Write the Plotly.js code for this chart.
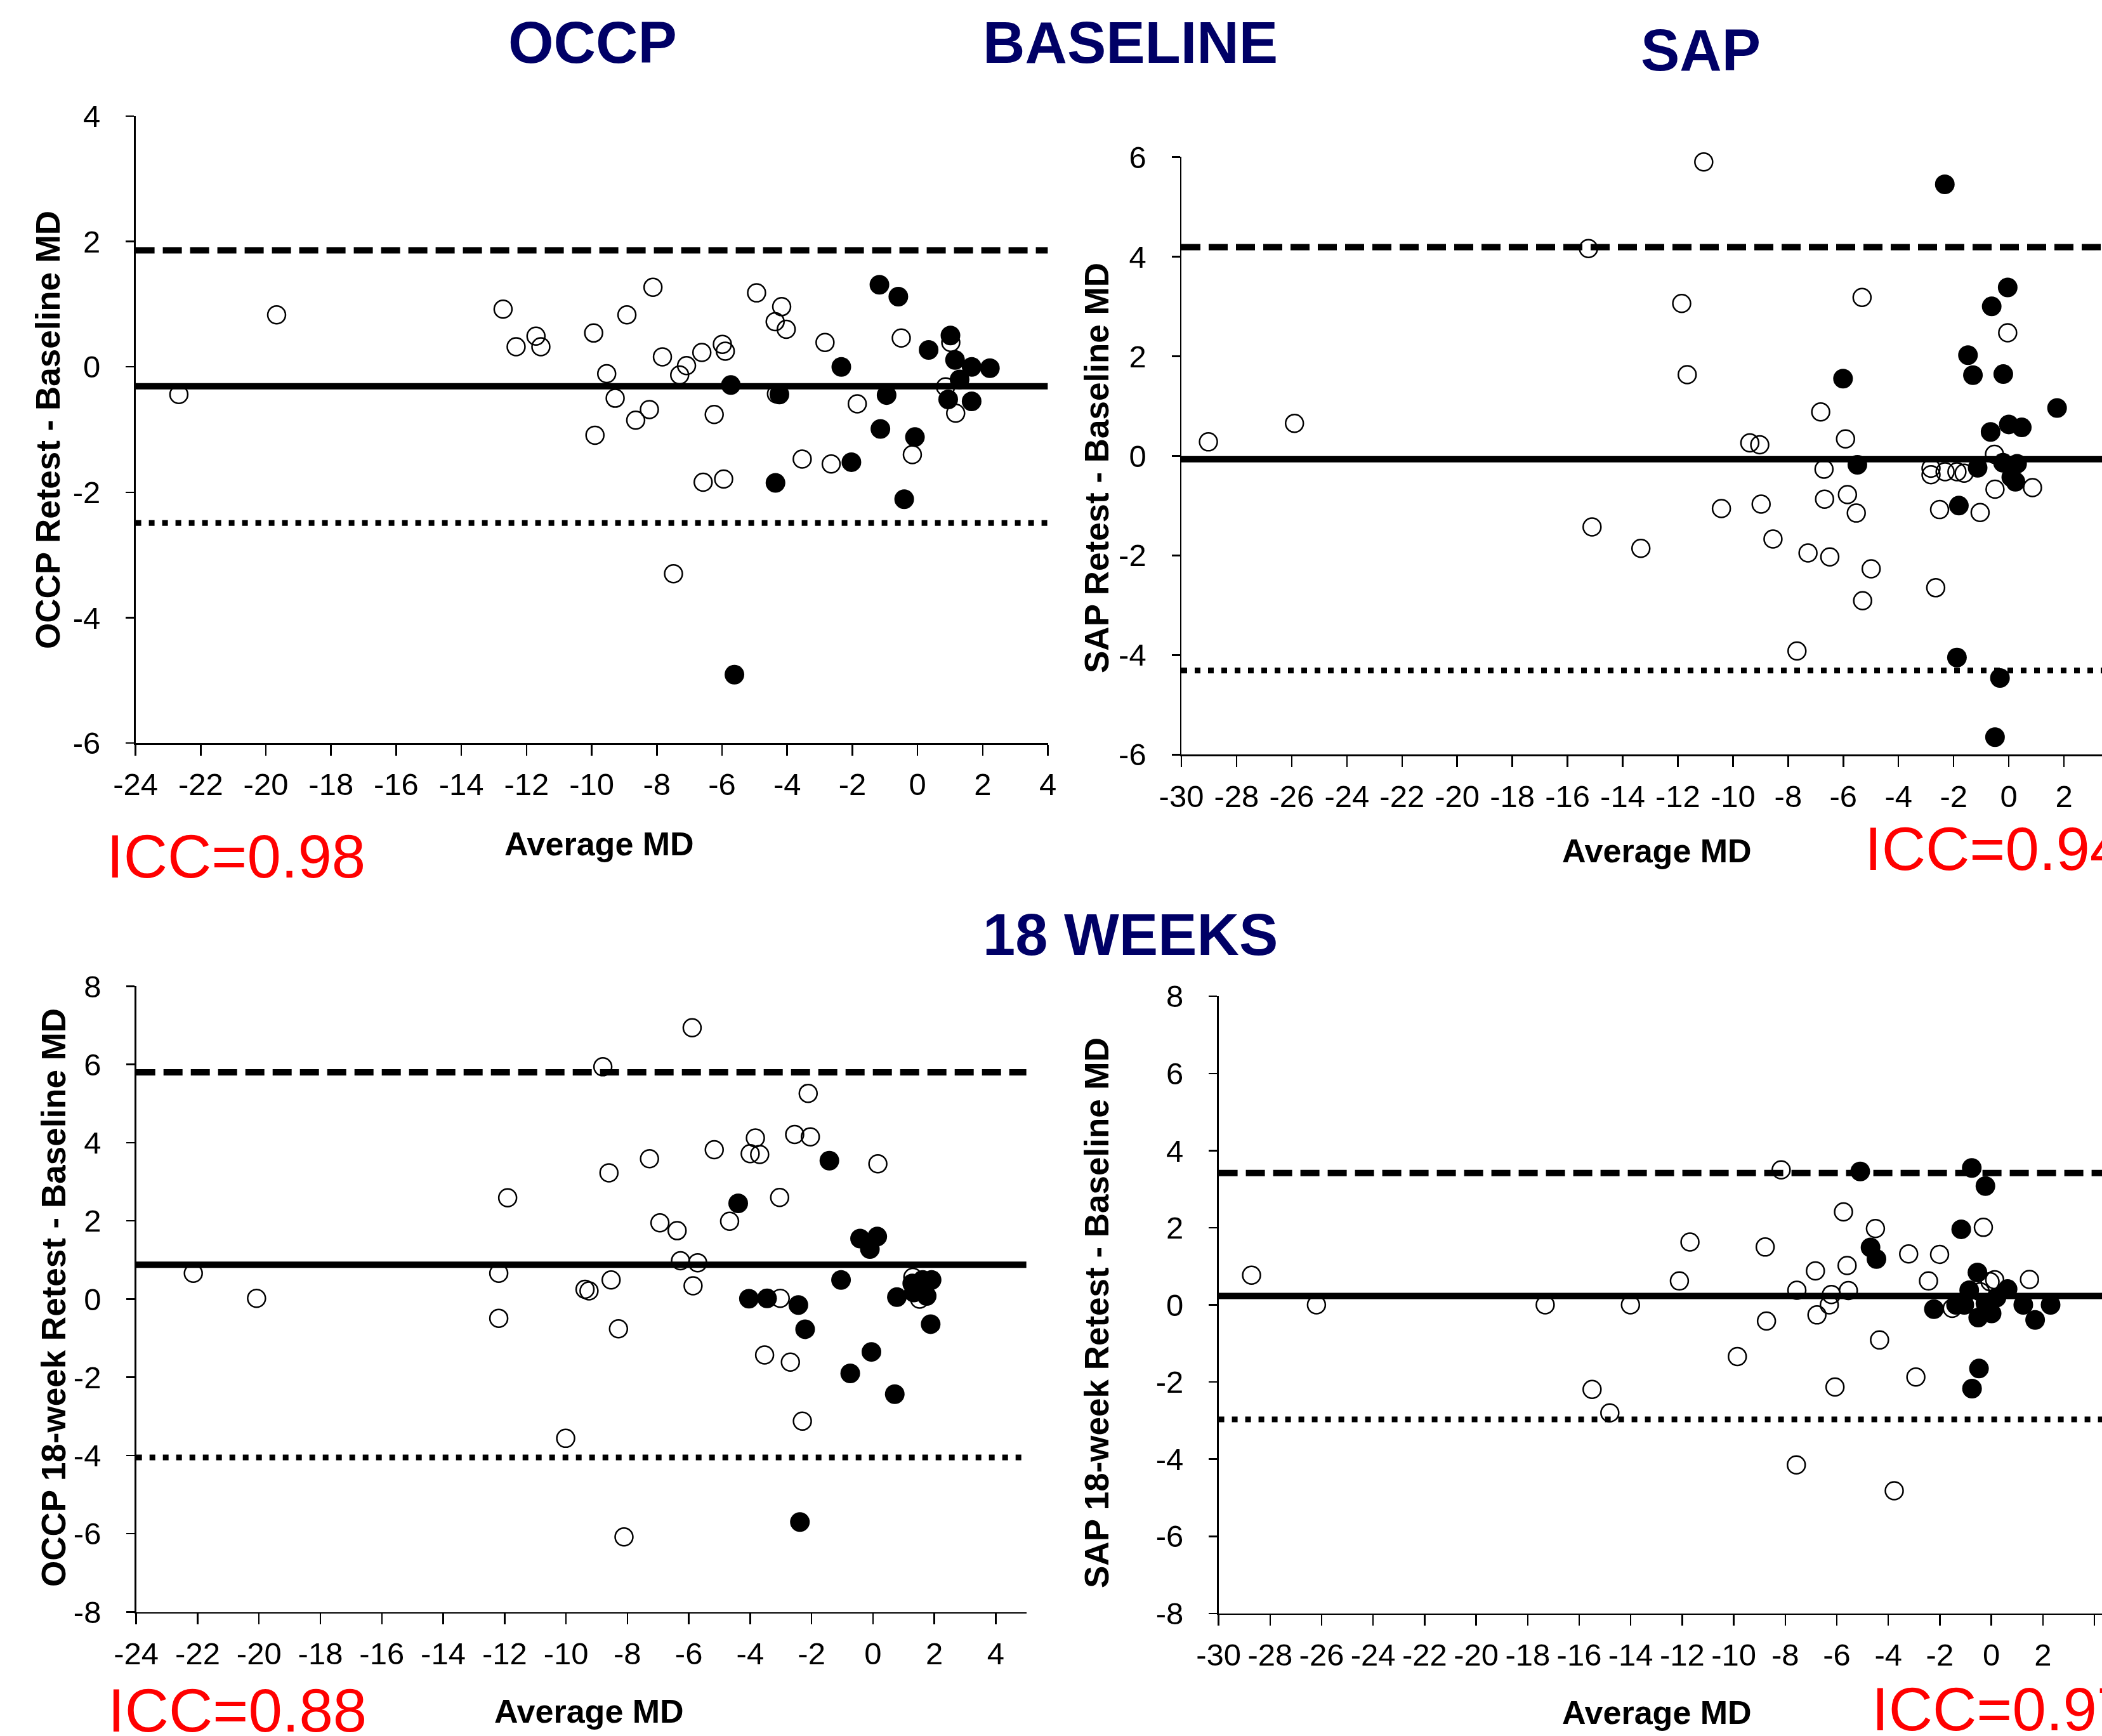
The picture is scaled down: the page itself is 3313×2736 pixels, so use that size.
<!DOCTYPE html>
<html>
<head>
<meta charset="utf-8">
<script src="https://cdn.plot.ly/plotly-3.0.1.min.js"></script>
<style>html,body{margin:0;padding:0;background:#fff;}#chart{width:3313px;height:2736px;}</style>
</head>
<body>
<div id="chart"></div>
<script>
// ---- Data ----
// Panel 1: OCCP baseline
const p1OpenX = [-22.67,-19.67,-12.72,-12.32,-11.71,-11.56,-9.94,-9.90,-9.54,-9.28,-8.92,-8.65,-8.23,-8.12,-7.83,-7.49,-7.30,-7.09,-6.62,-6.58,-6.24,-5.99,-5.90,-5.95,-4.94,-4.37,-4.17,-4.03,-4.33,-3.54,-2.84,-2.65,-1.85,-0.50,-0.16,0.86,1.02,1.17];
const p1OpenY = [-0.44,0.83,0.92,0.32,0.49,0.32,0.54,-1.09,-0.11,-0.50,0.83,-0.85,-0.68,1.27,0.16,-3.30,-0.13,0.02,0.23,-1.84,-0.76,0.36,0.25,-1.79,1.18,0.72,0.96,0.60,-0.43,-1.47,0.39,-1.55,-0.59,0.46,-1.40,-0.32,0.39,-0.74];
const p1FillX = [-5.73,-4.24,-4.36,-5.62,-2.34,-2.03,-1.17,-0.59,-0.95,-1.14,-0.08,-0.41,0.34,1.01,1.15,1.66,2.22,1.29,0.94,1.66];
const p1FillY = [-0.29,-0.44,-1.85,-4.91,0.00,-1.52,1.31,1.12,-0.45,-0.99,-1.12,-2.11,0.27,0.50,0.11,0.00,-0.02,-0.20,-0.52,-0.55];
const p1Lines = {mean: -0.31, upper: 1.86, lower: -2.49};
const p1XTicks = [-24,-22,-20,-18,-16,-14,-12,-10,-8,-6,-4,-2,0,2,4];
const p1YTicks = [-6,-4,-2,0,2,4];

// Panel 2: SAP baseline
const p2OpenX = [-29.02,-25.90,-15.24,-15.11,-13.34,-11.86,-11.66,-11.06,-10.42,-9.39,-9.03,-8.98,-8.55,-7.68,-7.28,-6.82,-6.70,-6.68,-6.49,-5.92,-5.85,-5.53,-5.32,-5.30,-4.99,-2.65,-2.51,-2.82,-2.82,-2.31,-1.88,-1.62,-1.04,-0.52,-0.50,-0.04,0.86];
const p2OpenY = [0.28,0.65,4.16,-1.43,-1.86,3.06,1.63,5.90,-1.06,0.26,0.22,-0.97,-1.67,-3.92,-1.95,0.88,-0.27,-0.87,-2.03,0.34,-0.78,-1.15,3.18,-2.91,-2.27,-2.65,-1.08,-0.25,-0.38,-0.32,-0.32,-0.35,-1.14,0.03,-0.67,2.47,-0.64];
const p2FillX = [-2.32,-6.01,-5.49,-1.48,-1.30,-0.20,-0.62,-0.04,1.75,-0.66,0.00,0.47,-1.13,-0.21,0.30,0.09,0.24,-1.81,-1.88,-0.32,-0.50];
const p2FillY = [5.45,1.55,-0.18,2.02,1.62,1.64,3.00,3.38,0.96,0.48,0.63,0.57,-0.24,-0.14,-0.16,-0.43,-0.52,-1.00,-4.05,-4.46,-5.65];
const p2Lines = {mean: -0.07, upper: 4.19, lower: -4.31};
const p2XTicks = [-30,-28,-26,-24,-22,-20,-18,-16,-14,-12,-10,-8,-6,-4,-2,0,2,4];
const p2YTicks = [-6,-4,-2,0,2,4,6];

// Panel 3: OCCP 18 weeks
const p3OpenX = [-22.14,-20.08,-12.19,-12.19,-11.90,-10.01,-9.38,-9.25,-8.80,-8.60,-8.53,-8.29,-8.11,-7.28,-6.94,-6.38,-6.27,-5.89,-5.86,-5.71,-5.17,-4.67,-4.00,-3.83,-3.69,-3.53,-3.04,-3.02,-2.69,-2.55,-2.30,-2.11,-2.04,0.16,1.30,1.52];
const p3OpenY = [0.66,0.02,0.66,-0.49,2.59,-3.56,0.25,0.21,5.94,3.23,0.49,-0.76,-6.08,3.59,1.95,1.75,0.98,6.94,0.34,0.93,3.82,1.99,3.72,4.12,3.70,-1.43,2.60,0.02,-1.61,4.21,-3.12,5.26,4.15,3.46,0.56,0.00];
const p3FillX = [-1.42,-4.39,-0.42,0.14,-0.10,-1.04,-4.04,-3.45,-2.43,-2.21,-2.38,-0.74,-0.05,0.71,0.78,1.28,1.62,1.91,1.75,1.33,1.88];
const p3FillY = [3.54,2.45,1.55,1.60,1.28,0.49,0.01,0.02,-0.15,-0.77,-5.70,-1.90,-1.35,-2.43,0.05,0.40,0.49,0.49,0.08,0.17,-0.64];
const p3Lines = {mean: 0.88, upper: 5.80, lower: -4.05};
const p3XTicks = [-24,-22,-20,-18,-16,-14,-12,-10,-8,-6,-4,-2,0,2,4];
const p3YTicks = [-8,-6,-4,-2,0,2,4,6,8];

// Panel 4: SAP 18 weeks
const p4OpenX = [-28.72,-26.20,-17.32,-15.50,-14.81,-14.01,-12.11,-11.70,-9.86,-8.78,-8.73,-8.16,-7.57,-7.55,-6.83,-6.77,-6.29,-6.21,-6.07,-5.74,-5.60,-5.55,-4.50,-4.34,-3.77,-3.21,-2.93,-2.44,-2.01,-1.52,-0.31,-0.43,-0.05,0.13,1.48];
const p4OpenY = [0.77,0.00,0.00,-2.19,-2.80,0.00,0.62,1.63,-1.34,1.50,-0.42,3.50,-4.15,0.38,0.88,-0.26,0.00,0.27,-2.13,2.41,1.02,0.37,1.98,-0.91,-4.82,1.32,-1.87,0.62,1.31,-0.09,2.01,0.34,0.60,0.65,0.66];
const p4FillX = [-5.09,-0.76,-0.23,-1.17,-4.69,-4.46,-0.54,-0.86,0.63,0.20,-2.23,-1.37,-1.05,-0.23,-0.51,0.01,1.24,2.30,1.70,-0.48,-0.75];
const p4FillY = [3.46,3.55,3.08,1.96,1.49,1.19,0.84,0.38,0.41,0.19,-0.11,0.00,0.00,0.04,-0.33,-0.22,0.00,0.00,-0.39,-1.65,-2.17];
const p4Lines = {mean: 0.23, upper: 3.42, lower: -2.97};
const p4XTicks = [-30,-28,-26,-24,-22,-20,-18,-16,-14,-12,-10,-8,-6,-4,-2,0,2,4];
const p4YTicks = [-8,-6,-4,-2,0,2,4,6,8];

const iccLabels = ["ICC=0.98", "ICC=0.94", "ICC=0.88", "ICC=0.97"];
const yTitles = ["OCCP Retest - Baseline MD", "SAP Retest - Baseline MD", "OCCP 18-week Retest - Baseline MD", "SAP 18-week Retest - Baseline MD"];
const xTitle = "Average MD";
const headTitles = ["OCCP", "BASELINE", "SAP", "18 WEEKS"];

// ---- Layout helpers ----
const W = 3313, H = 2736;
const FONT = "Liberation Sans, Arial, sans-serif";
const fx = px => px / W;
const fy = py => 1 - py / H;

const panels = [
  {ox:p1OpenX, oy:p1OpenY, fxs:p1FillX, fys:p1FillY, lines:p1Lines, xt:p1XTicks, yt:p1YTicks, xr:[-24,4], yr:[-6,4],
   xd:[fx(213.6), fx(1651.6)], yd:[fy(1171), fy(183)]},
  {ox:p2OpenX, oy:p2OpenY, fxs:p2FillX, fys:p2FillY, lines:p2Lines, xt:p2XTicks, yt:p2YTicks, xr:[-30,-30+(W-1862)/43.47], yr:[-6,6],
   xd:[fx(1862), 1], yd:[fy(1189.3), fy(247.4)]},
  {ox:p3OpenX, oy:p3OpenY, fxs:p3FillX, fys:p3FillY, lines:p3Lines, xt:p3XTicks, yt:p3YTicks, xr:[-24,5], yr:[-8,8],
   xd:[fx(214.7), fx(1617.8)], yd:[fy(2540.5), fy(1554.4)]},
  {ox:p4OpenX, oy:p4OpenY, fxs:p4FillX, fys:p4FillY, lines:p4Lines, xt:p4XTicks, yt:p4YTicks, xr:[-30,-30+(W-1920.6)/40.6], yr:[-8,8],
   xd:[fx(1920.6), 1], yd:[fy(2542.9), fy(1570.2)]}
];

const data = [];
const shapes = [];
const layout = {
  width: W, height: H,
  margin: {l:0, r:0, t:0, b:0},
  paper_bgcolor: "#ffffff", plot_bgcolor: "#ffffff",
  showlegend: false,
  font: {family: FONT, color: "#000"},
  annotations: []
};

panels.forEach((p, i) => {
  const n = i + 1;
  const xa = "x" + (n === 1 ? "" : n), ya = "y" + (n === 1 ? "" : n);
  const xk = "xaxis" + (n === 1 ? "" : n), yk = "yaxis" + (n === 1 ? "" : n);
  const common = {
    showline: true, linecolor: "#000", linewidth: 2.5,
    ticks: "outside", tickwidth: 2.5, tickcolor: "#000",
    showgrid: false, zeroline: false, tickmode: "array", tickangle: 0,
    tickfont: {family: FONT, size: 49, color: "#000"},
    fixedrange: true
  };
  layout[xk] = Object.assign({}, common, {domain: p.xd, range: p.xr, anchor: ya, ticklen: 17, ticklabelstandoff: 4,
    tickvals: p.xt, ticktext: p.xt.map(String)});
  layout[yk] = Object.assign({}, common, {domain: p.yd, range: p.yr, anchor: xa, ticklen: 13, ticklabelstandoff: 30,
    tickvals: p.yt, ticktext: p.yt.map(String)});

  const lineDefs = [
    {v: p.lines.upper, dash: "30px,13px", w: 10},
    {v: p.lines.mean, dash: "solid", w: 10},
    {v: p.lines.lower, dash: "9px,12px", w: 9}
  ];
  lineDefs.forEach(l => shapes.push({
    type: "line", xref: xa, yref: ya, x0: p.xr[0], x1: p.xr[1], y0: l.v, y1: l.v,
    line: {color: "#000", width: l.w, dash: l.dash}, layer: "below"
  }));

  data.push({
    type: "scatter", mode: "markers", x: p.ox, y: p.oy, xaxis: xa, yaxis: ya, cliponaxis: false,
    marker: {symbol: "circle-open", size: 28, color: "#000", line: {width: 2.5, color: "#000"}},
    hoverinfo: "x+y"
  });
  data.push({
    type: "scatter", mode: "markers", x: p.fxs, y: p.fys, xaxis: xa, yaxis: ya, cliponaxis: false,
    marker: {symbol: "circle", size: 31, color: "#000"},
    hoverinfo: "x+y"
  });
});
layout.shapes = shapes;

const navy = "#000066";
const headPos = [[934, 67], [1781, 67], [2680, 79], [1781, 1473]];
headTitles.forEach((t, i) => layout.annotations.push({
  text: "<b>" + t + "</b>", xref: "paper", yref: "paper",
  x: fx(headPos[i][0]), y: fy(headPos[i][1]), xanchor: "center", yanchor: "middle",
  showarrow: false, font: {family: FONT, size: 92, color: navy}
}));

const yTitlePos = [[76, 678], [1728, 737], [84, 2045], [1728, 2069]];
yTitles.forEach((t, i) => layout.annotations.push({
  text: "<b>" + t + "</b>", xref: "paper", yref: "paper",
  x: fx(yTitlePos[i][0]), y: fy(yTitlePos[i][1]), xanchor: "center", yanchor: "middle",
  textangle: -90, showarrow: false, font: {family: FONT, size: 53, color: "#000"}
}));

const xTitlePos = [[945, 1330], [2611, 1341], [928, 2697], [2611, 2699]];
xTitlePos.forEach(pp => layout.annotations.push({
  text: "<b>" + xTitle + "</b>", xref: "paper", yref: "paper",
  x: fx(pp[0]), y: fy(pp[1]), xanchor: "center", yanchor: "middle",
  showarrow: false, font: {family: FONT, size: 52, color: "#000"}
}));

const iccPos = [[166, 1349], [2937, 1337], [168, 2695], [2948, 2693]];
iccLabels.forEach((t, i) => layout.annotations.push({
  text: t, xref: "paper", yref: "paper",
  x: fx(iccPos[i][0]), y: fy(iccPos[i][1]), xanchor: "left", yanchor: "middle",
  showarrow: false, font: {family: FONT, size: 96, color: "#ff0000"}
}));

Plotly.newPlot("chart", data, layout, {displayModeBar: false, staticPlot: true});
</script>
</body>
</html>
